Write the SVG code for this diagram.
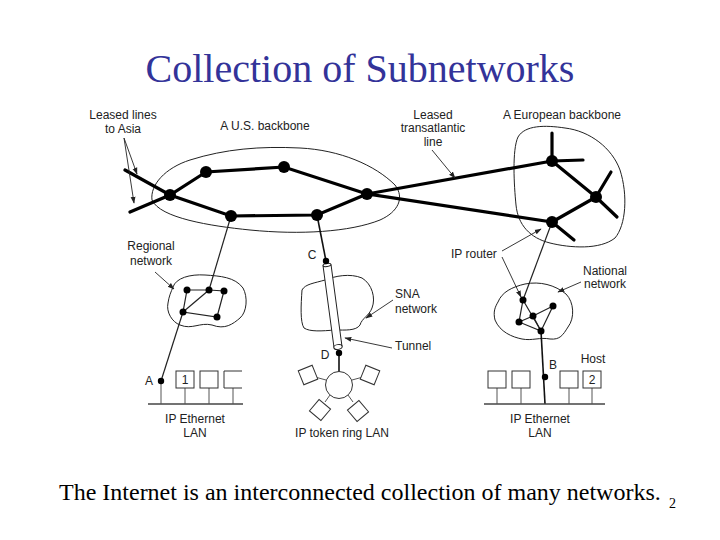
<svg xmlns="http://www.w3.org/2000/svg" width="720" height="540" viewBox="0 0 720 540">
<style>
.lbl{font-family:"Liberation Sans",Arial,sans-serif;font-size:12px;fill:#222}
.mid{text-anchor:middle}
.thick{stroke:#000;stroke-width:3.2;fill:none;stroke-linecap:round}
.thin{stroke:#222;stroke-width:1.2;fill:none}
.med{stroke:#111;stroke-width:1.6;fill:none}
.outline{stroke:#222;stroke-width:1;fill:none}
.lead{stroke:#222;stroke-width:0.9;fill:none;marker-end:url(#ah)}
.box{stroke:#333;stroke-width:1;fill:#fff}
.bus{stroke:#444;stroke-width:1.3;fill:none}
.stem{stroke:#555;stroke-width:1;fill:none}
</style>
<defs>
<marker id="ah" viewBox="0 0 10 10" refX="9" refY="5" markerWidth="7" markerHeight="7" orient="auto" markerUnits="userSpaceOnUse">
<path d="M0,1.5 L10,5 L0,8.5 Z" fill="#222"/>
</marker>
</defs>
<rect width="720" height="540" fill="#fff"/>
<text x="360" y="82" text-anchor="middle" font-family="Liberation Serif,Times New Roman,serif" font-size="40" fill="#333399">Collection of Subnetworks</text>

<g id="outlines">
<path id="us-outline" class="outline" d="M152,200 C150,185 165,168 190,160 C225,149 260,146 300,148 C340,150 375,165 395,185 C405,198 398,212 380,220 C350,232 300,235 250,230 C210,226 160,218 152,200 Z"/>
<path id="eu-outline" class="outline" d="M518,137 C525,125 545,125 565,128 C590,131 612,148 620,170 C628,195 626,225 615,238 C600,250 570,248 550,243 C530,238 518,225 516,205 C514,185 512,150 518,137 Z"/>
<path id="regional-outline" class="outline" d="M173,287 C176,278 190,274 205,275 C220,276 235,277 243,288 C248,297 247,312 240,318 C233,324 225,330 212,325 C200,322 192,330 180,325 C172,322 166,312 168,303 C169,296 171,292 173,287 Z"/>
<path id="national-outline" class="outline" d="M498,302 C502,292 512,287 525,284 C540,281 555,285 566,294 C574,302 575,318 568,327 C563,335 560,340 550,339 C540,337 532,341 522,339 C512,337 500,332 495,320 C493,312 495,307 498,302 Z"/>
<path id="sna-outline" class="outline" d="M302,290 C305,284 315,283 325,280 C335,276 350,273 362,278 C372,284 376,298 372,308 C369,316 362,318 360,325 C356,331 345,330 335,330 C322,331 310,332 304,328 C300,322 301,305 302,290 Z"/>
</g>

<g id="connectors">
<!-- US backbone -->
<polyline class="thick" points="125,170 170,195 231,216 317,215 367,194 552,222"/>
<polyline class="thick" points="130,212 170,195 206,172 284,167 367,194"/>
<line class="thick" x1="367" y1="194" x2="552" y2="161"/>
<!-- European backbone -->
<line class="thick" x1="552" y1="161" x2="552" y2="133"/>
<line class="thick" x1="552" y1="161" x2="583" y2="160"/>
<line class="thick" x1="552" y1="161" x2="596" y2="197"/>
<line class="thick" x1="596" y1="197" x2="611" y2="172"/>
<line class="thick" x1="596" y1="197" x2="617" y2="217"/>
<line class="thick" x1="596" y1="197" x2="552" y2="222"/>
<line class="thick" x1="552" y1="222" x2="574" y2="240"/>
<!-- links down -->
<line class="thin" x1="231" y1="216" x2="209" y2="290"/>
<line class="med" x1="317" y1="215" x2="326" y2="261"/>
<line class="thin" x1="552" y1="222" x2="523" y2="300"/>
<!-- regional network -->
<polyline class="thin" points="187,290 209,290 224,291 217,317 183,312 187,290"/>
<line class="thin" x1="183" y1="312" x2="209" y2="290"/>
<line class="thin" x1="183" y1="312" x2="161" y2="381"/>
<!-- national network -->
<polyline class="thin" points="523,300 519,322 541,331 523,300"/>
<polyline class="thin" points="519,322 533,316 553,306 541,331 533,316"/>
<line class="med" x1="541" y1="331" x2="545" y2="404"/>
<!-- LANs -->
<line class="bus" x1="148" y1="404" x2="243" y2="404"/>
<line class="stem" x1="161" y1="381" x2="161" y2="404"/>
<line class="stem" x1="185" y1="388" x2="185" y2="404"/>
<line class="stem" x1="209" y1="388" x2="209" y2="404"/>
<line class="stem" x1="233" y1="388" x2="233" y2="404"/>
<line class="bus" x1="484" y1="404" x2="605" y2="404"/>
<line class="stem" x1="497" y1="388" x2="497" y2="404"/>
<line class="stem" x1="521" y1="388" x2="521" y2="404"/>
<line class="stem" x1="569" y1="388" x2="569" y2="404"/>
<line class="stem" x1="592" y1="388" x2="592" y2="404"/>
<!-- token ring -->
<line class="med" x1="339" y1="353" x2="339" y2="372"/>
<line class="stem" x1="326" y1="380" x2="315" y2="377"/>
<line class="stem" x1="352" y1="380" x2="363" y2="377"/>
<line class="stem" x1="330" y1="395" x2="325" y2="402"/>
<line class="stem" x1="348" y1="395" x2="353" y2="402"/>
<!-- leaders -->
<line class="lead" x1="124" y1="138" x2="137" y2="174"/>
<line class="lead" x1="124" y1="138" x2="134" y2="203"/>
<line class="lead" x1="432" y1="150" x2="455" y2="178"/>
<line class="lead" x1="155" y1="272" x2="174" y2="289"/>
<line class="lead" x1="502" y1="251" x2="541" y2="229"/>
<line class="lead" x1="502" y1="257" x2="521" y2="297"/>
<line class="lead" x1="581" y1="282" x2="558" y2="292"/>
<line class="lead" x1="393" y1="300" x2="366" y2="318"/>
<line class="lead" x1="392" y1="348" x2="345" y2="338"/>
</g>

<g id="tunnel">
<polygon points="323,265.5 331,264.5 342,346.5 334,347.5" fill="#fff" stroke="#222" stroke-width="1"/>
<ellipse cx="327" cy="265" rx="4" ry="1.5" transform="rotate(-8 327 265)" fill="#fff" stroke="#222" stroke-width="1"/>
<ellipse cx="338" cy="347" rx="4.2" ry="2.4" transform="rotate(-8 338 347)" fill="#fff" stroke="#222" stroke-width="1"/>
</g>

<g id="nodes">
<g id="us-routers" fill="#000">
<circle cx="170" cy="195" r="6"/><circle cx="206" cy="172" r="6"/><circle cx="284" cy="167" r="6"/>
<circle cx="367" cy="194" r="6"/><circle cx="231" cy="216" r="6"/><circle cx="317" cy="215" r="6"/>
</g>
<g id="eu-routers" fill="#000">
<circle cx="552" cy="161" r="6"/><circle cx="596" cy="197" r="6"/><circle cx="552" cy="222" r="6"/>
</g>
<g id="regional-routers" fill="#000">
<circle cx="187" cy="290" r="3.5"/><circle cx="209" cy="290" r="3.5"/><circle cx="224" cy="291" r="3.5"/>
<circle cx="183" cy="312" r="3.5"/><circle cx="217" cy="317" r="3.5"/>
</g>
<g id="national-routers" fill="#000">
<circle cx="523" cy="300" r="3.5"/><circle cx="553" cy="306" r="3.5"/><circle cx="533" cy="316" r="3.5"/>
<circle cx="519" cy="322" r="3.5"/><circle cx="541" cy="331" r="3.5"/>
</g>
<g id="endpoints" fill="#000">
<circle cx="161" cy="381" r="3.2"/><circle cx="326" cy="261" r="3.2"/><circle cx="339" cy="353" r="3.2"/><circle cx="545" cy="377" r="3.2"/>
</g>
<g id="lan-left">
<rect class="box" x="176" y="371" width="18" height="17"/>
<rect class="box" x="200" y="371" width="18" height="17"/>
<path class="box" d="M242,371 H224 V388 H242" fill="none"/>
<text class="lbl mid" x="185" y="384">1</text>
</g>
<g id="lan-right">
<rect class="box" x="488" y="371" width="18" height="17"/>
<rect class="box" x="512" y="371" width="18" height="17"/>
<rect class="box" x="560" y="371" width="18" height="17"/>
<rect class="box" x="583" y="371" width="18" height="17"/>
<text class="lbl mid" x="592" y="384">2</text>
</g>
<g id="token-ring">
<circle cx="339" cy="385" r="13.5" fill="#fff" stroke="#333" stroke-width="1"/>
<rect class="box" x="-7.5" y="-7.5" width="15" height="15" transform="translate(308,375) rotate(-22)"/>
<rect class="box" x="-7.5" y="-7.5" width="15" height="15" transform="translate(370,375) rotate(22)"/>
<rect class="box" x="-7.5" y="-7.5" width="15" height="15" transform="translate(320,410) rotate(40)"/>
<rect class="box" x="-7.5" y="-7.5" width="15" height="15" transform="translate(358,411) rotate(-40)"/>
</g>
</g>

<g id="labels">
<text class="lbl mid" x="123" y="119">Leased lines</text>
<text class="lbl mid" x="123" y="133">to Asia</text>
<text class="lbl mid" x="265" y="130">A U.S. backbone</text>
<text class="lbl mid" x="433" y="119">Leased</text>
<text class="lbl mid" x="433" y="132">transatlantic</text>
<text class="lbl mid" x="433" y="146">line</text>
<text class="lbl mid" x="562" y="119">A European backbone</text>
<text class="lbl mid" x="151" y="250">Regional</text>
<text class="lbl mid" x="151" y="265">network</text>
<text class="lbl mid" x="312" y="259">C</text>
<text class="lbl" x="451" y="258">IP router</text>
<text class="lbl mid" x="605" y="275">National</text>
<text class="lbl mid" x="605" y="288">network</text>
<text class="lbl" x="395" y="298">SNA</text>
<text class="lbl" x="395" y="313">network</text>
<text class="lbl" x="395" y="350">Tunnel</text>
<text class="lbl mid" x="325" y="359">D</text>
<text class="lbl mid" x="149" y="385">A</text>
<text class="lbl mid" x="553" y="369">B</text>
<text class="lbl mid" x="593" y="363">Host</text>
<text class="lbl mid" x="195" y="423">IP Ethernet</text>
<text class="lbl mid" x="195" y="437">LAN</text>
<text class="lbl mid" x="342" y="437">IP token ring LAN</text>
<text class="lbl mid" x="540" y="423">IP Ethernet</text>
<text class="lbl mid" x="540" y="437">LAN</text>
</g>

<text x="59" y="500" font-family="Liberation Serif,Times New Roman,serif" font-size="24" fill="#000">The Internet is an interconnected collection of many networks.</text>
<text x="669" y="508" font-family="Liberation Serif,Times New Roman,serif" font-size="14" fill="#000">2</text>
</svg>
